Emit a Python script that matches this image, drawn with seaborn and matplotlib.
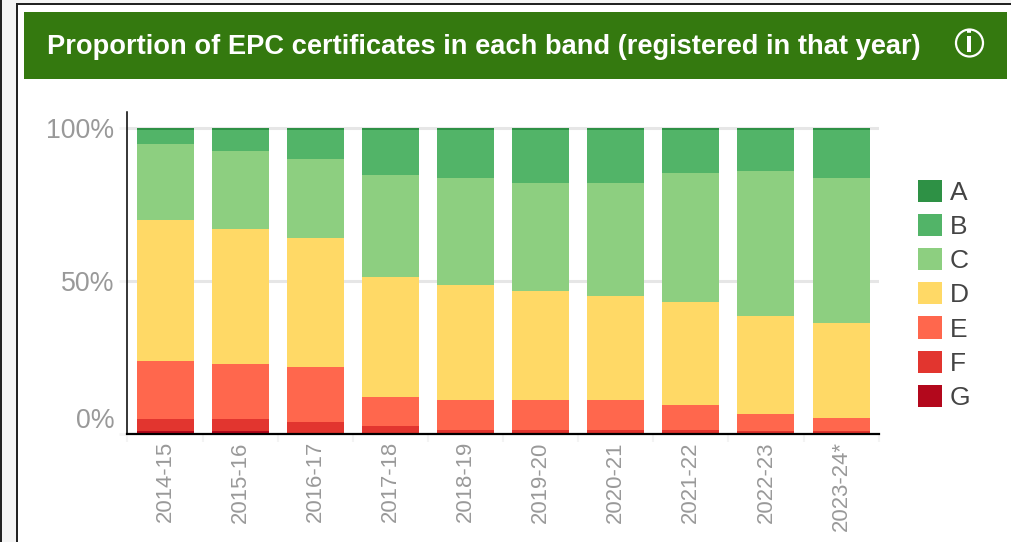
# =========================================
# IMPORTS
# =========================================
import pandas as pd
import matplotlib
matplotlib.use("Agg")
import matplotlib.pyplot as plt
from matplotlib.patches import Rectangle, Circle
import seaborn as sns


# =========================================
# DATA (% of certificates)
# =========================================
years = ["2014-15", "2015-16", "2016-17", "2017-18", "2018-19",
         "2019-20", "2020-21", "2021-22", "2022-23", "2023-24*"]
bands = ["A", "B", "C", "D", "E", "F", "G"]

band_a = [0.7, 0.7, 0.7, 0.7, 0.7, 0.7, 0.7, 0.7, 0.7, 0.7]
band_b = [4.6, 6.9, 9.5, 14.8, 15.7, 17.4, 17.4, 14.1, 13.4, 15.7]
band_c = [24.9, 25.6, 25.9, 33.4, 35.1, 35.4, 37.0, 42.3, 47.5, 47.5]
band_d = [46.2, 44.3, 42.3, 39.3, 37.7, 35.7, 34.1, 33.8, 32.1, 31.1]
band_e = [19.0, 18.0, 17.7, 9.5, 9.5, 9.5, 9.5, 7.9, 5.6, 4.3]
band_f = [3.9, 3.9, 3.6, 2.2, 1.2, 1.2, 1.2, 1.2, 0.7, 0.7]
band_g = [0.7, 0.7, 0.3, 0.1, 0.1, 0.1, 0.1, 0.1, 0.1, 0.1]

band_colors = ["#2e9145", "#52b468", "#8dcf80", "#ffd966",
               "#ff674d", "#e2352f", "#b3081c"]

y_ticks = [0, 50, 100]
y_labels = ["0%", "50%", "100%"]

df = pd.DataFrame({"year": years, "A": band_a, "B": band_b, "C": band_c, "D": band_d,
                   "E": band_e, "F": band_f, "G": band_g})
long_df = df.melt(id_vars="year", var_name="band", value_name="share")


# =========================================
# FIGURE + PAGE FURNITURE
# =========================================
sns.set_style("white")
plt.rcParams["font.family"] = ["Liberation Sans", "DejaVu Sans"]

W, H = 1012, 542
fig = plt.figure(figsize=(W / 100, H / 100), dpi=100, facecolor="white")

# background layer in pixel coordinates
bg = fig.add_axes([0, 0, 1, 1], zorder=0)
bg.set_xlim(0, W)
bg.set_ylim(H, 0)
bg.axis("off")

bg.add_patch(Rectangle((0, 0), W, 3, color="#f4f4f4", lw=0))
bg.add_patch(Rectangle((0, 0), 16, H, color="#f4f4f4", lw=0))
bg.add_patch(Rectangle((0, 0), 2, H, color="#222222", lw=0))
bg.add_patch(Rectangle((16, 3), 2, H, color="#222222", lw=0))
bg.add_patch(Rectangle((16, 3), W, 2, color="#222222", lw=0))
bg.add_patch(Rectangle((24, 12), 983, 67, color="#34790f", lw=0))

bg.text(47, 47, "Proportion of EPC certificates in each band (registered in that year)",
        color="white", fontsize=19.65, fontweight="bold", va="center", ha="left")

# info icon
bg.add_patch(Circle((969.5, 43), 13.5, fill=False, ec="white", lw=1.6))
bg.text(969.5, 43.5, "i", color="white", fontsize=21, fontweight="bold", ha="center", va="center")


# =========================================
# STACKED BARS
# =========================================
ax_left, ax_right, ax_top, ax_bottom = 127.5, 879, 112, 433.5
ax = fig.add_axes([ax_left / W, 1 - ax_bottom / H,
                   (ax_right - ax_left) / W, (ax_bottom - ax_top) / H], zorder=1)
ax.patch.set_alpha(0)

sns.histplot(data=long_df, x="year", weights="share", hue="band", hue_order=bands,
             multiple="stack", discrete=True, shrink=0.76, palette=band_colors,
             alpha=1, linewidth=0, ax=ax)

ax.set_xlim(-0.495, 9.505)
ax.set_ylim(0, 105.2)
ax.set_xlabel("")
ax.set_ylabel("")

ax.set_axisbelow(True)
ax.yaxis.grid(True, color="#e6e6e6", lw=2.2)
ax.xaxis.grid(False)

ax.set_yticks(y_ticks)
ax.set_yticklabels(y_labels)
ax.tick_params(axis="y", left=True, length=6, width=2, color="#f4f4f4",
               labelsize=19.3, labelcolor="#999999", pad=3.5)
ax.get_yticklabels()[0].set_va("bottom")

ax.set_xticks(range(len(years)))
ax.set_xticklabels(years, rotation=90)
ax.set_xticks([i - 0.5 for i in range(len(years) + 1)], minor=True)
ax.tick_params(axis="x", which="major", bottom=False, labelsize=15.9, labelcolor="#999999", pad=2)
ax.tick_params(axis="x", which="minor", bottom=True, length=6, width=1.5, color="#f4f4f4")

for side in ["top", "right"]:
    ax.spines[side].set_visible(False)
ax.spines["left"].set_color("black")
ax.spines["left"].set_linewidth(1.1)
ax.spines["bottom"].set_color("black")
ax.spines["bottom"].set_linewidth(1.6)


# =========================================
# LEGEND
# =========================================
sns.move_legend(ax, "upper left", bbox_to_anchor=(918 / W, 1 - 179.5 / H),
                bbox_transform=fig.transFigure, title=None, frameon=False,
                fontsize=19, handlelength=0.91, handleheight=0.91,
                labelspacing=0.345, handletextpad=0.3, borderpad=0, borderaxespad=0,
                labelcolor="#444444")

fig.savefig("out.png", dpi=100)
